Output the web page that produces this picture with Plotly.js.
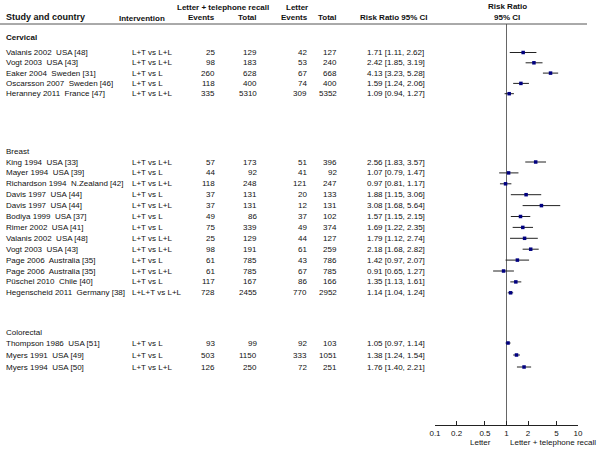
<!DOCTYPE html>
<html><head><meta charset="utf-8">
<script src="https://cdn.plot.ly/plotly-3.0.1.min.js"></script>
<style>html,body{margin:0;padding:0;background:#fff}</style>
</head><body><div id="chart" style="width:600px;height:450px"></div>
<script>
// ---------- DATA ----------
const groups = ["Cervical", "Breast", "Colorectal"];
const groupOf = [0,0,0,0,0, 1,1,1,1,1,1,1,1,1,1,1,1,1, 2,2,2];
const studies = [
  "Valanis 2002\u00a0 USA [48]", "Vogt 2003\u00a0 USA [43]", "Eaker 2004\u00a0 Sweden [31]",
  "Oscarsson 2007\u00a0 Sweden [46]", "Heranney 2011\u00a0 France [47]",
  "King 1994\u00a0 USA [33]", "Mayer 1994\u00a0 USA [39]", "Richardson 1994\u00a0 N.Zealand [42]",
  "Davis 1997\u00a0 USA [44]", "Davis 1997\u00a0 USA [44]", "Bodiya 1999\u00a0 USA [37]",
  "Rimer 2002\u00a0 USA [41]", "Valanis 2002\u00a0 USA [48]", "Vogt 2003\u00a0 USA [43]",
  "Page 2006\u00a0 Australia [35]", "Page 2006\u00a0 Australia [35]", "Püschel 2010\u00a0 Chile [40]",
  "Hegenscheid 2011\u00a0 Germany [38]",
  "Thompson 1986\u00a0 USA [51]", "Myers 1991\u00a0 USA [49]", "Myers 1994\u00a0 USA [50]"
];
const interventions = [
  "L+T vs L+L","L+T vs L+L","L+T vs L","L+T vs L","L+T vs L+L",
  "L+T vs L+L","L+T vs L","L+T vs L+L","L+T vs L","L+T vs L+L","L+T vs L","L+T vs L",
  "L+T vs L+L","L+T vs L+L","L+T vs L","L+T vs L+L","L+T vs L","L+L+T vs L+L",
  "L+T vs L","L+T vs L","L+T vs L+L"
];
const ltEvents = [25,98,260,118,335, 57,44,118,37,37,49,75,25,98,61,61,117,728, 93,503,126];
const ltTotal  = [129,183,628,400,5310, 173,92,248,131,131,86,339,129,191,785,785,167,2455, 99,1150,250];
const lEvents  = [42,53,67,74,309, 51,41,121,20,12,37,49,44,61,43,67,86,770, 92,333,72];
const lTotal   = [127,240,668,400,5352, 396,92,247,133,131,102,374,127,259,786,785,166,2952, 103,1051,251];
const rr  = [1.71,2.42,4.13,1.59,1.09, 2.56,1.07,0.97,1.88,3.08,1.57,1.69,1.79,2.18,1.42,0.91,1.35,1.14, 1.05,1.38,1.76];
const lo  = [1.11,1.85,3.23,1.24,0.94, 1.83,0.79,0.81,1.15,1.68,1.15,1.22,1.12,1.68,0.97,0.65,1.13,1.04, 0.97,1.24,1.40];
const hi  = [2.62,3.19,5.28,2.06,1.27, 3.57,1.47,1.17,3.06,5.64,2.15,2.35,2.74,2.82,2.07,1.27,1.61,1.24, 1.14,1.54,2.21];
const tickVals = [0.1,0.2,0.5,1,2,5,10];
const tickText = ["0.1","0.2","0.5","1","2","5","10"];

// ---------- LAYOUT (pixel rows) ----------
const groupHeaderY = [37, 151, 332];
const groupFirstRowY = [52.5, 162, 343];
const groupSpacing = [10.3, 10.9, 12];
const rowY = [];
const counters = [0,0,0];
for (let i = 0; i < studies.length; i++) {
  const g = groupOf[i];
  rowY.push(groupFirstRowY[g] + counters[g] * groupSpacing[g]);
  counters[g]++;
}

const FONT = "Liberation Sans, Arial, sans-serif";
const FS = 8;
const annotations = [];
function txt(x, y, text, anchor, bold, size) {
  annotations.push({
    xref: "x", yref: "y", x: x, y: y, text: bold ? "<b>" + text + "</b>" : text,
    showarrow: false, xanchor: anchor, yanchor: "middle",
    font: {family: FONT, size: size || FS, color: "#111"}, borderpad: 0
  });
}
// headers
txt(223, 7, "Letter + telephone recall", "center", true);
txt(297, 7, "Letter", "center", true);
txt(5, 17, "Study and country", "left", true, 9);
txt(118, 18, "Intervention", "left", true);
txt(216, 17, "Events", "right", true);
txt(258, 17, "Total", "right", true);
txt(309, 17, "Events", "right", true);
txt(338, 17, "Total", "right", true);
txt(359, 17, "Risk Ratio 95% CI", "left", true);
txt(507, 6, "Risk Ratio", "center", true);
txt(507, 17, "95% CI", "center", true);
groups.forEach((g, k) => txt(5, groupHeaderY[k], g, "left", k === 0));
for (let i = 0; i < studies.length; i++) {
  const y = rowY[i];
  txt(5, y, studies[i], "left");
  txt(131, y, interventions[i], "left");
  txt(216, y, String(ltEvents[i]), "right");
  txt(258, y, String(ltTotal[i]), "right");
  txt(308, y, String(lEvents[i]), "right");
  txt(338, y, String(lTotal[i]), "right");
  txt(366, y, rr[i].toFixed(2) + " [" + lo[i].toFixed(2) + ", " + hi[i].toFixed(2) + "]", "left");
}
txt(480, 442, "Letter", "center");
txt(553, 442, "Letter + telephone recall", "center");

// CI segments
const ciX = [], ciY = [];
for (let i = 0; i < rr.length; i++) {
  ciX.push(lo[i], hi[i], null);
  ciY.push(rowY[i], rowY[i], null);
}

const traces = [
  {x: [1, 1], y: [24, 425], xaxis: "x2", yaxis: "y2", mode: "lines",
   line: {color: "#666", width: 1}, hoverinfo: "skip", cliponaxis: false},
  {x: ciX, y: ciY, xaxis: "x2", yaxis: "y2", mode: "lines",
   line: {color: "#222", width: 1}, hoverinfo: "skip", cliponaxis: false},
  {x: rr, y: rowY, xaxis: "x2", yaxis: "y2", mode: "markers",
   marker: {symbol: "square", size: 3.5, color: "#000080"}, cliponaxis: false}
];

const layout = {
  width: 600, height: 450,
  margin: {l: 0, r: 0, t: 0, b: 0},
  paper_bgcolor: "#fff", plot_bgcolor: "rgba(0,0,0,0)",
  showlegend: false,
  font: {family: FONT, size: FS, color: "#111"},
  xaxis: {range: [0, 600], domain: [0, 1], visible: false, fixedrange: true},
  yaxis: {range: [450, 0], domain: [0, 1], visible: false, fixedrange: true},
  xaxis2: {type: "log", range: [-1, 1], domain: [435/600, 578/600], anchor: "y2",
           showgrid: false, zeroline: false, showline: true, linecolor: "#222", linewidth: 1,
           ticks: "inside", ticklen: 4, tickcolor: "#222", tickvals: tickVals, ticktext: tickText,
           tickfont: {family: FONT, size: FS, color: "#111"}, fixedrange: true},
  yaxis2: {range: [425, 24], domain: [25/450, 426/450], anchor: "x2", visible: false, fixedrange: true},
  shapes: [{type: "line", xref: "x", yref: "y", x0: 0, x1: 587, y0: 24, y1: 24,
            line: {color: "#555", width: 1}}],
  annotations: annotations
};
Plotly.newPlot("chart", traces, layout, {displayModeBar: false, staticPlot: true});
</script></body></html>
